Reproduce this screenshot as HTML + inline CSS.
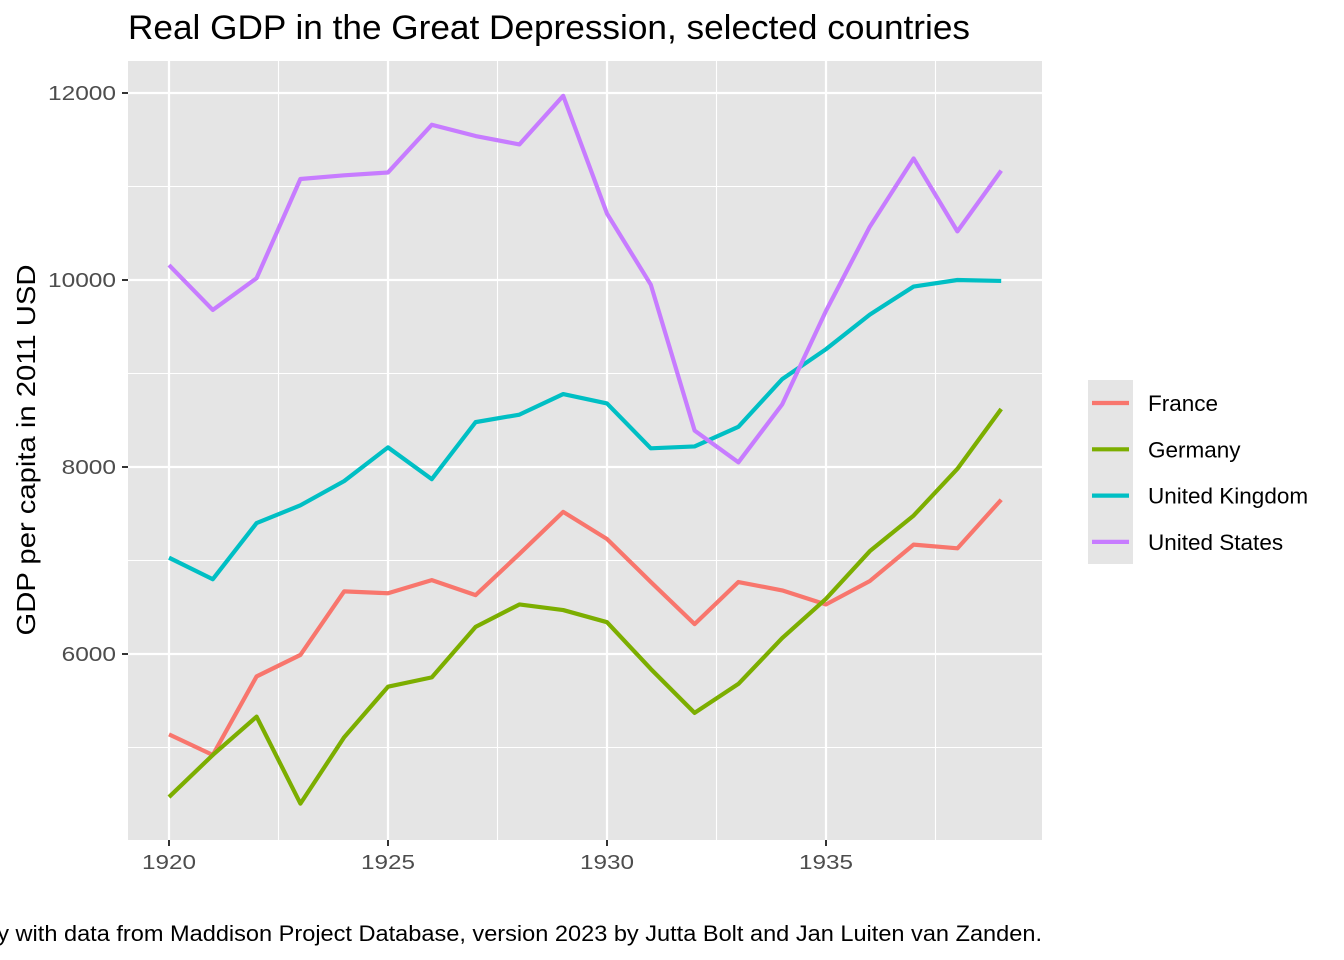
<!DOCTYPE html>
<html><head><meta charset="utf-8"><style>
html,body{margin:0;padding:0;background:#fff;}
svg{display:block;font-family:"Liberation Sans",Arial,sans-serif;}
</style></head><body>
<svg id="chart" width="1344" height="960" viewBox="0 0 1344 960">
<rect x="128" y="61" width="914" height="779" fill="#e5e5e5"/>
<g id="grid"></g><g id="series"></g><g id="axes"></g>
<text x="128" y="39" font-size="34" textLength="842" lengthAdjust="spacingAndGlyphs" fill="#000">Real GDP in the Great Depression, selected countries</text>
<text transform="translate(35,450) rotate(-90)" text-anchor="middle" font-size="26" textLength="371" lengthAdjust="spacingAndGlyphs" fill="#000">GDP per capita in 2011 USD</text>
<text x="-8" y="941" font-size="22" textLength="1050" lengthAdjust="spacingAndGlyphs" fill="#000">ly with data from Maddison Project Database, version 2023 by Jutta Bolt and Jan Luiten van Zanden.</text>
<rect x="1088" y="380" width="45" height="184" fill="#e5e5e5"/>
<g id="legend"></g>
</svg>
<script>
const years=[1920,1921,1922,1923,1924,1925,1926,1927,1928,1929,1930,1931,1932,1933,1934,1935,1936,1937,1938,1939];
const countries=["France","Germany","United Kingdom","United States"];
const colors=["#F8766D","#7CAE00","#00BFC4","#C77CFF"];
const france=[5140,4920,5760,5990,6670,6650,6790,6630,7070,7520,7230,6770,6320,6770,6680,6530,6780,7170,7130,7650];
const germany=[4470,4920,5330,4400,5110,5650,5750,6290,6530,6470,6340,5840,5370,5680,6170,6590,7100,7480,7980,8620];
const uk=[7030,6800,7400,7590,7850,8210,7870,8480,8560,8780,8680,8200,8220,8430,8940,9260,9630,9930,10000,9990];
const us=[10160,9680,10020,11080,11120,11150,11660,11540,11450,11970,10710,9950,8390,8050,8670,9670,10570,11300,10520,11170];
const xTicks=[1920,1925,1930,1935];
const yTicks=[6000,8000,10000,12000];
const seriesData=[france,germany,uk,us];
const NS="http://www.w3.org/2000/svg";
const X=v=>169+(v-1920)*43.8;
const Y=v=>93+(12000-v)*0.0935;
function mk(tag,attrs,parent){const e=document.createElementNS(NS,tag);for(const k in attrs)e.setAttribute(k,attrs[k]);parent.appendChild(e);return e;}
const grid=document.getElementById('grid'),axes=document.getElementById('axes'),ser=document.getElementById('series'),leg=document.getElementById('legend');
for(const t of yTicks){
  const m=mk('line',{x1:128,x2:1042,y1:Y(t-1000),y2:Y(t-1000),stroke:'#fff','stroke-width':1.1},grid);
  
  
  const g=mk('line',{x1:128,x2:1042,y1:Y(t),y2:Y(t),stroke:'#fff','stroke-width':2.2},grid);
  
  
  const tk=mk('line',{x1:122,x2:128,y1:Y(t),y2:Y(t),stroke:'#333','stroke-width':2},axes);
  
  
  const tx=mk('text',{x:116,y:Y(t)+7,'text-anchor':'end','font-size':20,textLength:String(t).length*13.6,lengthAdjust:'spacingAndGlyphs',fill:'#4d4d4d'},axes);
  tx.textContent=t;
  
  
}
const m11=mk('line',{x1:128,x2:1042,y1:Y(11000),y2:Y(11000),stroke:'#fff','stroke-width':1.1},grid);


for(const t of xTicks){
  const m=mk('line',{x1:X(t+2.5),x2:X(t+2.5),y1:61,y2:840,stroke:'#fff','stroke-width':1.1},grid);
  
  
  const g=mk('line',{x1:X(t),x2:X(t),y1:61,y2:840,stroke:'#fff','stroke-width':2.2},grid);
  
  
  const tk=mk('line',{x1:X(t),x2:X(t),y1:840,y2:846,stroke:'#333','stroke-width':2},axes);
  
  
  const tx=mk('text',{x:X(t),y:869,'text-anchor':'middle','font-size':20,textLength:54,lengthAdjust:'spacingAndGlyphs',fill:'#4d4d4d'},axes);
  tx.textContent=t;
  
  
}
seriesData.forEach((d,i)=>{
  const p=mk('polyline',{points:d.map((v,j)=>X(years[j])+','+Y(v)).join(' '),fill:'none',stroke:colors[i],'stroke-width':4.2,'stroke-linejoin':'round'},ser);
  
  
  const ly=403+i*46.3;
  const l=mk('line',{x1:1092,x2:1129,y1:ly,y2:ly,stroke:colors[i],'stroke-width':4.2},leg);
  
  
  const t=mk('text',{x:1148,y:ly+8,'font-size':22.5,fill:'#000'},leg);
  t.textContent=countries[i];
  
  
});
</script>
</body></html>
